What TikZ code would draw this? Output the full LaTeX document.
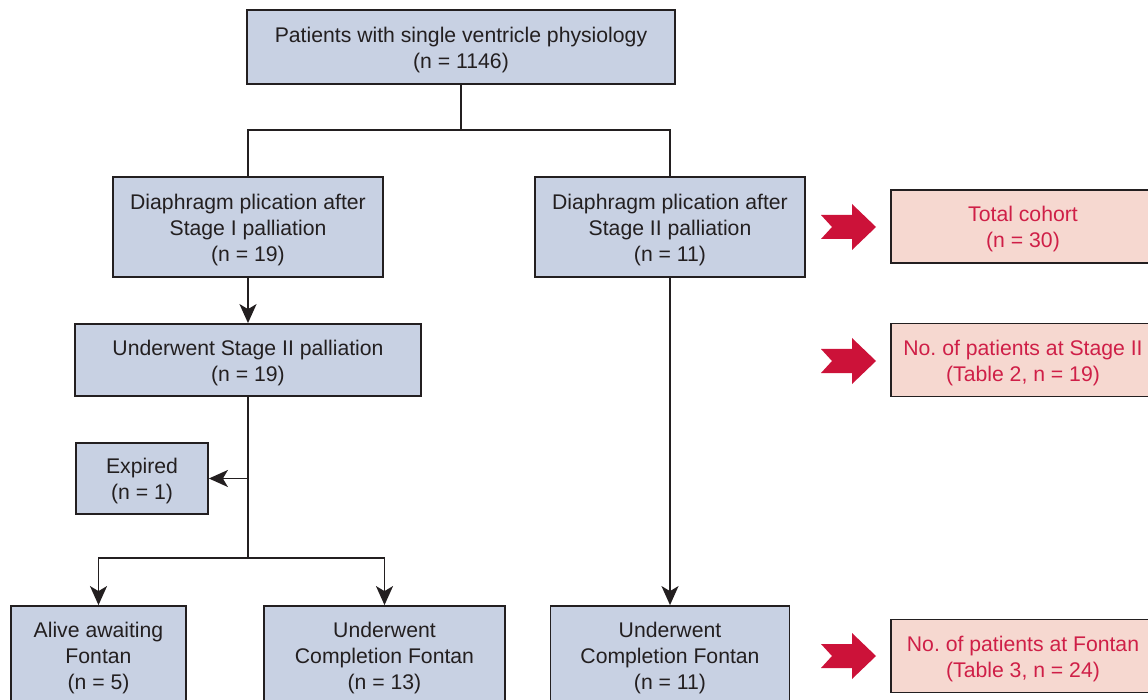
\documentclass[tikz,border=0pt]{standalone}
\usepackage{fontspec}
\setmainfont{Liberation Sans}
\usetikzlibrary{arrows.meta}
\definecolor{boxblue}{HTML}{C8D1E3}
\definecolor{boxpink}{HTML}{F6D8D0}
\definecolor{redarrow}{HTML}{CC1239}
\definecolor{redtext}{HTML}{CF1F47}
\definecolor{ink}{HTML}{231F20}
\frenchspacing
\begin{document}
\begin{tikzpicture}[x=1pt,y=-1pt,
  txt/.style={align=center, font=\fontsize{21.2}{26}\selectfont, inner sep=0pt, yshift=-3pt},
  bluetxt/.style={txt, text=ink},
  pinktxt/.style={txt, text=redtext},
  bluebox/.style={draw=ink, line width=1.8pt, fill=boxblue, inner sep=0pt},
  pinkbox/.style={draw=ink, line width=1.8pt, fill=boxpink, inner sep=0pt,
    minimum width=264pt, minimum height=73pt},
  conn/.style={draw=ink, line width=1.8pt},
  arr/.style={conn, -{Stealth[length=19pt,width=17pt,inset=5pt]}},
  redarr/.pic={\fill[redarrow] (-28,-12) -- (3,-12) -- (3,-23) -- (27,0) -- (3,23) -- (3,12) -- (-28,12) -- (-17,0) -- cycle;}
]
\useasboundingbox (0,0) rectangle (1148,700);
\clip (0,0) rectangle (1148,700);

\node[bluebox, minimum width=428pt, minimum height=74pt,
  label={[bluetxt]center:{Patients with single ventricle physiology\\(n = 1146)}}] (top) at (461,47) {};
\node[bluebox, minimum width=270pt, minimum height=100pt,
  label={[bluetxt]center:{Diaphragm plication after\\Stage I palliation\\(n = 19)}}] (s1) at (248,227) {};
\node[bluebox, minimum width=270pt, minimum height=100pt,
  label={[bluetxt]center:{Diaphragm plication after\\Stage II palliation\\(n = 11)}}] (s2) at (670,227) {};
\node[bluebox, minimum width=346pt, minimum height=72pt,
  label={[bluetxt]center:{Underwent Stage II palliation\\(n = 19)}}] (u2) at (248,360) {};
\node[bluebox, minimum width=132pt, minimum height=71pt,
  label={[bluetxt]center:{Expired\\(n = 1)}}] (exp) at (142,478.5) {};
\node[bluebox, minimum width=175pt, minimum height=98pt,
  label={[bluetxt]center:{Alive awaiting\\Fontan\\(n = 5)}}] (alive) at (98.5,655) {};
\node[bluebox, minimum width=241pt, minimum height=98pt,
  label={[bluetxt]center:{Underwent\\Completion Fontan\\(n = 13)}}] (cl) at (384.5,655) {};
\node[bluebox, minimum width=239pt, minimum height=98pt,
  label={[bluetxt]center:{Underwent\\Completion Fontan\\(n = 11)}}] (cr) at (670,655) {};

\node[pinkbox, label={[pinktxt]center:{Total cohort\\(n = 30)}}] (p1) at (1023,226.5) {};
\node[pinkbox, label={[pinktxt]center:{No. of patients at Stage II\\(Table 2, n = 19)}}] (p2) at (1023,360) {};
\node[pinkbox, label={[pinktxt]center:{No. of patients at Fontan\\(Table 3, n = 24)}}] (p3) at (1023,656) {};

\pic (a1) at (849,227) {redarr};
\pic (a2) at (849,361) {redarr};
\pic (a3) at (849,656) {redarr};

\coordinate (j1) at (461,130);
\coordinate (j2) at (248,558);
\coordinate (j3) at (248,478.5);
\draw[conn] (top.south) -- (j1);
\draw[conn] (j1) -| (s1.north);
\draw[conn] (j1) -| (s2.north);
\draw[arr] (s1.south) -- (u2.north);
\draw[conn] (u2.south) -- (j2);
\draw[arr] (j3) -- (exp.east);
\draw[arr] (j2) -| (alive.north);
\draw[arr] (j2) -| (cl.north);
\draw[arr] (s2.south) -- (cr.north);
\end{tikzpicture}
\end{document}
